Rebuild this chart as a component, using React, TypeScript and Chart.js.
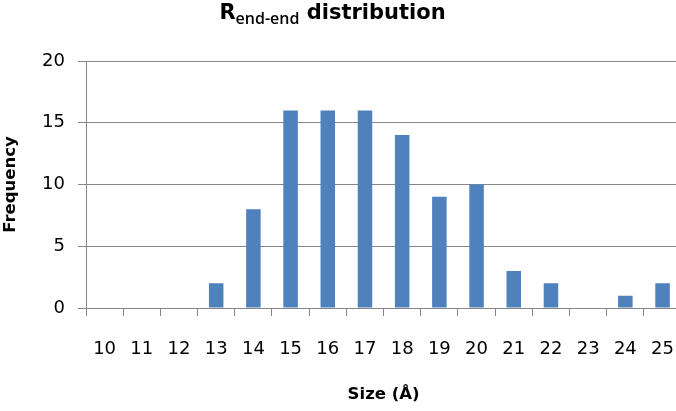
import React, { useEffect, useRef } from "react";
import { Chart, registerables } from "chart.js";

Chart.register(...registerables);

const categories = ["10", "11", "12", "13", "14", "15", "16", "17", "18", "19", "20", "21", "22", "23", "24", "25"];
const frequency = [0, 0, 0, 2, 8, 16, 16, 16, 14, 9, 10, 3, 2, 0, 1, 2];
const yTicks = [0, 5, 10, 15, 20];

const FONT = "'DejaVu Sans', sans-serif";
const SUBFONT = "'Open Sans', 'DejaVu Sans', sans-serif";

const titlePlugin = {
  id: "subTitle",
  afterDraw(chart: any) {
    const ctx = chart.ctx as CanvasRenderingContext2D;
    ctx.save();
    const big = `bold 21px ${FONT}`;
    const small = `600 16px ${SUBFONT}`;
    ctx.font = big;
    const wR = ctx.measureText("R").width;
    const wD = ctx.measureText(" distribution").width;
    ctx.font = small;
    const wS = ctx.measureText("end-end").width;
    const total = wR + wS + wD;
    let x = 332.5 - total / 2;
    const base = 18.5;
    ctx.fillStyle = "#000";
    ctx.textBaseline = "alphabetic";
    ctx.textAlign = "left";
    ctx.font = big;
    ctx.fillText("R", x, base);
    x += wR;
    ctx.font = small;
    ctx.fillText("end-end", x, base + 5);
    x += wS;
    ctx.font = big;
    ctx.fillText(" distribution", x, base);
    ctx.restore();
  },
};

export default function App() {
  const ref = useRef<HTMLCanvasElement>(null);
  useEffect(() => {
    if (!ref.current) return;
    const chart = new Chart(ref.current, {
      type: "bar",
      data: {
        labels: categories,
        datasets: [
          {
            label: "Frequency",
            data: frequency,
            backgroundColor: "#4F81BD",
            borderWidth: 0,
            barPercentage: 0.39,
            categoryPercentage: 1,
          },
        ],
      },
      options: {
        animation: false,
        responsive: false,
        maintainAspectRatio: false,
        layout: { padding: { top: 61, left: 0, right: 0, bottom: 0 } },
        plugins: { legend: { display: false }, tooltip: { enabled: false }, title: { display: false } },
        scales: {
          x: {
            grid: {
              display: true,
              drawOnChartArea: false,
              offset: true,
              tickLength: 8,
              color: "#868686",
            },
            border: { color: "#868686", width: 1 },
            ticks: {
              color: "#000",
              font: { family: FONT, size: 18 },
              padding: 23,
              maxRotation: 0,
              autoSkip: false,
            },
            title: {
              display: true,
              text: "Size (Å)",
              color: "#000",
              font: { family: FONT, size: 16.5, weight: "bold" },
              padding: { top: 0, bottom: 6 },
            },
            afterFit(scale: any) {
              scale.height = 103;
            },
          },
          y: {
            min: 0,
            max: 20,
            afterBuildTicks(scale: any) {
              scale.ticks = yTicks.map((v) => ({ value: v }));
            },
            grid: { color: "#868686", tickLength: 8 },
            border: { color: "#868686", width: 1 },
            ticks: {
              color: "#000",
              font: { family: FONT, size: 18 },
              padding: 13,
            },
            title: {
              display: true,
              text: "Frequency",
              color: "#000",
              font: { family: FONT, size: 16.5, weight: "bold" },
              padding: { top: 1, bottom: 0 },
            },
            afterFit(scale: any) {
              scale.width = 86;
            },
          },
        },
      },
      plugins: [titlePlugin],
    });
    return () => chart.destroy();
  }, []);
  return (
    <div style={{ position: "fixed", left: 0, top: 0, width: 676, height: 411, overflow: "hidden", background: "#fff" }}>
      <canvas ref={ref} width={697} height={411} style={{ display: "block", width: 697, height: 411 }} />
    </div>
  );
}
